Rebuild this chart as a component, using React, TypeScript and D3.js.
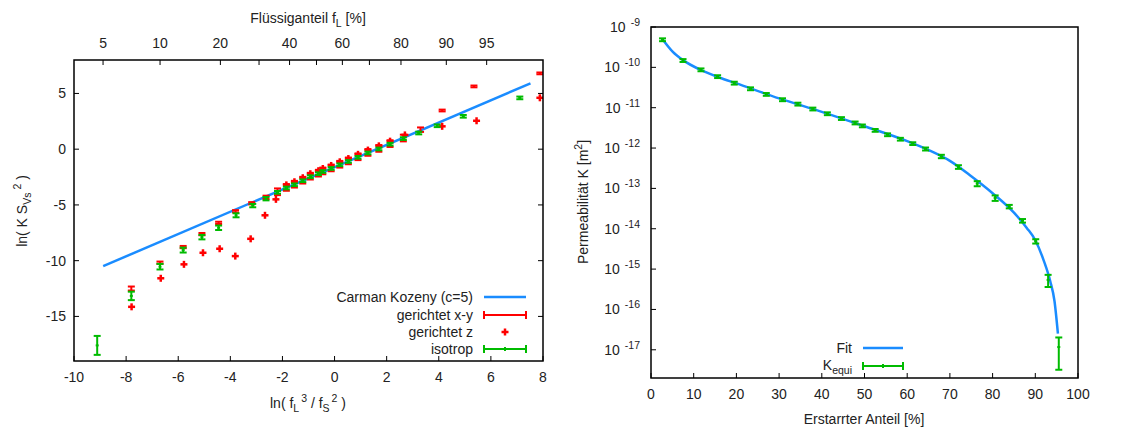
import * as d3 from 'd3';

// ---- left panel: ln(K S_vs^2) over ln(fL^3/fS^2)
const ckX = [-8.88, 7.52];
const ckY = [-10.49, 5.91];

const isoX = [7.11, 4.94, 3.94, 3.23, 2.64, 2.13, 1.7, 1.28, 0.9, 0.53, 0.2, -0.13, -0.45, -0.62, -0.93, -1.22, -1.54, -1.85, -2.19, -2.63, -3.14, -3.78, -4.45, -5.09, -5.81, -6.7, -7.8, -9.11];
const isoY = [4.6, 2.95, 2.1, 1.45, 0.95, 0.45, 0.02, -0.34, -0.73, -1.1, -1.4, -1.73, -2.0, -2.2, -2.47, -2.83, -3.19, -3.48, -3.87, -4.44, -5.06, -5.93, -7.05, -7.89, -9.05, -10.54, -13.16, -17.6];
const isoErr = [0.12, 0.12, 0.12, 0.12, 0.12, 0.12, 0.12, 0.12, 0.12, 0.12, 0.12, 0.12, 0.12, 0.12, 0.12, 0.12, 0.12, 0.12, 0.12, 0.15, 0.15, 0.18, 0.2, 0.2, 0.22, 0.25, 0.38, 0.85];

const xyX = [7.88, 5.35, 4.13, 3.3, 2.64, 2.13, 1.7, 1.28, 0.9, 0.53, 0.2, -0.13, -0.45, -0.62, -0.93, -1.22, -1.54, -1.85, -2.19, -2.63, -3.18, -3.8, -4.45, -5.09, -5.81, -6.7, -7.8];
const xyY = [6.8, 5.63, 3.47, 1.75, 1.0, 0.5, 0.07, -0.29, -0.68, -1.05, -1.35, -1.68, -1.95, -2.15, -2.42, -2.78, -3.14, -3.43, -3.82, -4.32, -4.85, -5.57, -6.61, -7.62, -8.78, -10.18, -12.5];
const xyErr = [0.08, 0.08, 0.08, 0.2, 0.3, 0.3, 0.3, 0.3, 0.3, 0.3, 0.3, 0.3, 0.3, 0.3, 0.3, 0.3, 0.3, 0.3, 0.3, 0.15, 0.1, 0.1, 0.1, 0.1, 0.1, 0.1, 0.18];

const zX = [7.88, 5.45, 4.13, 2.7, 2.13, 1.7, 1.28, 0.9, 0.53, 0.2, -0.13, -0.45, -0.62, -0.93, -1.22, -1.54, -1.85, -2.25, -2.67, -3.22, -3.81, -4.41, -5.05, -5.78, -6.67, -7.79];
const zY = [4.61, 2.55, 2.05, 1.28, 0.72, 0.3, -0.08, -0.46, -0.84, -1.13, -1.46, -1.73, -1.93, -2.2, -2.56, -2.92, -3.2, -4.5, -5.93, -8.04, -9.59, -8.93, -9.29, -10.33, -11.58, -14.14];

const leftXTicks = [-10, -8, -6, -4, -2, 0, 2, 4, 6, 8];
const leftYTicks = [-15, -10, -5, 0, 5];
const flTicks = [5, 10, 20, 30, 40, 50, 60, 70, 80, 90, 95];
const flLabels = [5, 10, 20, 40, 60, 80, 90, 95];

// ---- right panel: permeability over solid fraction
const fsX = [2.7, 7.5, 11.7, 15.6, 19.5, 23.3, 27, 30.8, 34.4, 37.9, 41.3, 44.6, 47.8, 49.5, 52.5, 55.4, 58.4, 61.3, 64.3, 68, 72, 76.4, 80.6, 83.9, 87, 90.1, 93, 95.5];
const kVal = [4.84e-10, 1.48e-10, 8.7e-11, 5.9e-11, 4.07e-11, 2.95e-11, 2.14e-11, 1.58e-11, 1.23e-11, 9.3e-12, 7.1e-12, 5.4e-12, 4.2e-12, 3.55e-12, 2.75e-12, 2.14e-12, 1.66e-12, 1.29e-12, 9.5e-13, 6.2e-13, 3.4e-13, 1.32e-13, 5.8e-14, 3.55e-14, 1.58e-14, 4.9e-15, 5.4e-16, 1.17e-17];
const kErr = [3.9e-11, 1.2e-11, 7e-12, 4.7e-12, 3.3e-12, 2.4e-12, 1.7e-12, 1.3e-12, 1.0e-12, 7.4e-13, 5.7e-13, 4.3e-13, 3.4e-13, 2.8e-13, 2.2e-13, 1.7e-13, 1.3e-13, 1.0e-13, 8e-14, 6e-14, 3.5e-14, 1.9e-14, 9e-15, 3.5e-15, 1.6e-15, 6e-16, 1.8e-16, 8.5e-18];

const fitX = [2.7, 5, 7.5, 12, 16, 20, 30, 40, 50, 60, 65, 70, 75, 80, 85, 88, 90, 92, 93.5, 94.5, 95.3];
const fitK = [5.0e-10, 2.5e-10, 1.51e-10, 8.3e-11, 5.6e-11, 4.0e-11, 1.7e-11, 7.9e-12, 3.47e-12, 1.48e-12, 8.9e-13, 4.8e-13, 2.0e-13, 7.6e-14, 2.5e-14, 1.05e-14, 5.2e-15, 1.6e-15, 5.0e-16, 1.6e-16, 2.5e-17];

const rightXTicks = [0, 10, 20, 30, 40, 50, 60, 70, 80, 90, 100];
const rightYExp = [-9, -10, -11, -12, -13, -14, -15, -16, -17];

const BLUE = '#1a8cff';
const RED = '#ff0000';
const GREEN = '#00bb00';
const TXT = '#222';
const FONT = '"Liberation Sans", Arial, sans-serif';
const SMALL = 10.5;

const L = { x0: 74, x1: 543, y0: 60, y1: 361 };
const R = { x0: 651, x1: 1078, y0: 27, y1: 378 };

const xL = d3.scaleLinear().domain([-10, 8]).range([L.x0, L.x1]);
const yL = d3.scaleLinear().domain([-19, 8]).range([L.y1, L.y0]);
const flToX = (p: number) => {
  const f = p / 100;
  return xL(Math.log((f * f * f) / ((1 - f) * (1 - f))));
};

const xR = d3.scaleLinear().domain([0, 100]).range([R.x0, R.x1]);
const yR = d3.scaleLog().domain([2e-18, 1e-9]).range([R.y1, R.y0]);

function ErrBar({ x, y0, y1, yc, color, cap = 7, dot = false }: any) {
  return (
    <g stroke={color} strokeWidth={2}>
      <line x1={x} x2={x} y1={y0} y2={y1} />
      <line x1={x - cap / 2} x2={x + cap / 2} y1={y0} y2={y0} />
      <line x1={x - cap / 2} x2={x + cap / 2} y1={y1} y2={y1} />
      {dot && <line x1={x - 1.5} x2={x + 1.5} y1={yc} y2={yc} />}
    </g>
  );
}

function Plus({ x, y, color, s = 7 }: any) {
  return (
    <g stroke={color} strokeWidth={2.5}>
      <line x1={x - s / 2} x2={x + s / 2} y1={y} y2={y} />
      <line x1={x} x2={x} y1={y - s / 2} y2={y + s / 2} />
    </g>
  );
}

export default function App() {
  const ckLine = d3.line<number>().x((d, i) => xL(ckX[i])).y((d, i) => yL(ckY[i]));
  const fitLine = d3
    .line<number>()
    .x((d, i) => xR(fitX[i]))
    .y((d, i) => yR(fitK[i]))
    .curve(d3.curveMonotoneX);

  const legL = [297, 315, 332, 349];

  return (
    <svg
      width={1125}
      height={428}
      style={{ position: 'absolute', left: 0, top: 0, background: '#fff' }}
      fontFamily={FONT}
      fontSize={14}
      fill={TXT}
    >
      <defs>
        <clipPath id="clipL">
          <rect x={L.x0} y={L.y0} width={L.x1 - L.x0} height={L.y1 - L.y0} />
        </clipPath>
        <clipPath id="clipR">
          <rect x={R.x0} y={R.y0} width={R.x1 - R.x0} height={R.y1 - R.y0} />
        </clipPath>
      </defs>

      {/* ---------- left panel ---------- */}
      <g stroke="#000" strokeWidth={1}>
        {leftXTicks.map((t) => (
          <line key={'bx' + t} x1={xL(t)} x2={xL(t)} y1={L.y1} y2={L.y1 - 5} />
        ))}
        {flTicks.map((t) => (
          <line key={'tx' + t} x1={flToX(t)} x2={flToX(t)} y1={L.y0} y2={L.y0 + 5} />
        ))}
        {leftYTicks.map((t) => (
          <g key={'ly' + t}>
            <line x1={L.x0} x2={L.x0 + 5} y1={yL(t)} y2={yL(t)} />
            <line x1={L.x1} x2={L.x1 - 5} y1={yL(t)} y2={yL(t)} />
          </g>
        ))}
      </g>
      {leftXTicks.map((t) => (
        <text key={'bxl' + t} x={xL(t)} y={382} textAnchor="middle">
          {t}
        </text>
      ))}
      {flLabels.map((t) => (
        <text key={'txl' + t} x={flToX(t)} y={48} textAnchor="middle">
          {t}
        </text>
      ))}
      {leftYTicks.map((t) => (
        <text key={'lyl' + t} x={66} y={yL(t) + 5} textAnchor="end">
          {t}
        </text>
      ))}
      <text x={308} y={23} textAnchor="middle">
        Flüssiganteil f<tspan dy={4} fontSize={SMALL}>L</tspan>
        <tspan dy={-4}>{'  [%]'}</tspan>
      </text>
      <text x={308} y={408} textAnchor="middle">
        ln( f<tspan dy={4} fontSize={SMALL}>L</tspan>
        <tspan dy={-10} dx={2} fontSize={SMALL}>3</tspan>
        <tspan dy={6}>{' / f'}</tspan>
        <tspan dy={4} fontSize={SMALL}>S</tspan>
        <tspan dy={-10} dx={2} fontSize={SMALL}>2</tspan>
        <tspan dy={6}>{' )'}</tspan>
      </text>
      <text transform="translate(27,211) rotate(-90)" textAnchor="middle">
        ln( K S<tspan dy={4} fontSize={SMALL}>Vs</tspan>
        <tspan dy={-10} dx={3} fontSize={SMALL}>2</tspan>
        <tspan dy={6}>{' )'}</tspan>
      </text>

      <g clipPath="url(#clipL)">
        <path d={ckLine(ckX) || ''} fill="none" stroke={BLUE} strokeWidth={2.5} />
        {xyX.map((x, i) => (
          <ErrBar
            key={'xy' + i}
            x={xL(x)}
            y0={yL(xyY[i] + xyErr[i])}
            y1={yL(xyY[i] - xyErr[i])}
            yc={yL(xyY[i])}
            color={RED}
          />
        ))}
        {zX.map((x, i) => (
          <Plus key={'z' + i} x={xL(x)} y={yL(zY[i])} color={RED} />
        ))}
        {isoX.map((x, i) => (
          <ErrBar
            key={'iso' + i}
            x={xL(x)}
            y0={yL(isoY[i] + isoErr[i])}
            y1={yL(isoY[i] - isoErr[i])}
            yc={yL(isoY[i])}
            color={GREEN}
            dot
          />
        ))}
      </g>

      {/* left legend */}
      {['Carman Kozeny (c=5)', 'gerichtet x-y', 'gerichtet z', 'isotrop'].map((s, i) => (
        <text key={'lg' + i} x={473} y={legL[i] + 5} textAnchor="end">
          {s}
        </text>
      ))}
      <line x1={484} x2={526} y1={legL[0]} y2={legL[0]} stroke={BLUE} strokeWidth={2.5} />
      <g stroke={RED} strokeWidth={2}>
        <line x1={484} x2={526} y1={legL[1]} y2={legL[1]} />
        <line x1={484} x2={484} y1={legL[1] - 4} y2={legL[1] + 4} />
        <line x1={526} x2={526} y1={legL[1] - 4} y2={legL[1] + 4} />
      </g>
      <Plus x={505} y={legL[2]} color={RED} />
      <g stroke={GREEN} strokeWidth={2}>
        <line x1={484} x2={526} y1={legL[3]} y2={legL[3]} />
        <line x1={484} x2={484} y1={legL[3] - 4} y2={legL[3] + 4} />
        <line x1={526} x2={526} y1={legL[3] - 4} y2={legL[3] + 4} />
        <line x1={505} x2={505} y1={legL[3] - 2} y2={legL[3] + 2} />
      </g>

      <rect
        x={L.x0}
        y={L.y0}
        width={L.x1 - L.x0}
        height={L.y1 - L.y0}
        fill="none"
        stroke="#000"
        strokeWidth={1.5}
      />

      {/* ---------- right panel ---------- */}
      <g stroke="#000" strokeWidth={1}>
        {rightXTicks.map((t) => (
          <line key={'rx' + t} x1={xR(t)} x2={xR(t)} y1={R.y1} y2={R.y1 - 5} />
        ))}
        {rightYExp.map((e) => (
          <line key={'ry' + e} x1={R.x0} x2={R.x0 + 5} y1={yR(Math.pow(10, e))} y2={yR(Math.pow(10, e))} />
        ))}
      </g>
      {rightXTicks.map((t) => (
        <text key={'rxl' + t} x={xR(t)} y={399} textAnchor="middle">
          {t}
        </text>
      ))}
      {rightYExp.map((e) => (
        <text key={'ryl' + e} x={640} y={yR(Math.pow(10, e)) + 5} textAnchor="end">
          10
          <tspan dx={5} dy={-6} fontSize={SMALL}>
            {e}
          </tspan>
        </text>
      ))}
      <text x={864} y={424} textAnchor="middle">
        Erstarrter Anteil [%]
      </text>
      <text transform="translate(588,202) rotate(-90)" textAnchor="middle">
        Permeabilität K [m<tspan dy={-6} fontSize={SMALL}>2</tspan>
        <tspan dy={6}>]</tspan>
      </text>

      <g clipPath="url(#clipR)">
        <path d={fitLine(fitX) || ''} fill="none" stroke={BLUE} strokeWidth={2.5} />
        {fsX.map((x, i) => (
          <ErrBar
            key={'k' + i}
            x={xR(x)}
            y0={yR(kVal[i] + kErr[i])}
            y1={yR(Math.max(kVal[i] - kErr[i], 1e-19))}
            yc={yR(kVal[i])}
            color={GREEN}
            dot
          />
        ))}
      </g>

      {/* right legend */}
      <text x={852} y={353} textAnchor="end">
        Fit
      </text>
      <line x1={863} x2={903} y1={348} y2={348} stroke={BLUE} strokeWidth={2.5} />
      <text x={852} y={370} textAnchor="end">
        K<tspan dy={4} fontSize={SMALL}>equi</tspan>
      </text>
      <g stroke={GREEN} strokeWidth={2}>
        <line x1={863} x2={903} y1={366} y2={366} />
        <line x1={863} x2={863} y1={362} y2={370} />
        <line x1={903} x2={903} y1={362} y2={370} />
        <line x1={883} x2={883} y1={364} y2={368} />
      </g>

      <rect
        x={R.x0}
        y={R.y0}
        width={R.x1 - R.x0}
        height={R.y1 - R.y0}
        fill="none"
        stroke="#000"
        strokeWidth={1.5}
      />
    </svg>
  );
}
